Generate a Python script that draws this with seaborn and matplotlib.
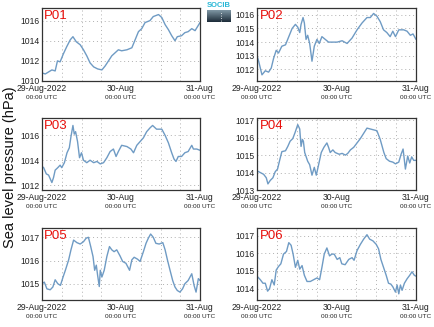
import numpy as np
import pandas as pd
import matplotlib
matplotlib.use("Agg")
import matplotlib.pyplot as plt
import seaborn as sns

# ---- data (hours since 29-Aug-2022 00:00 UTC, sea level pressure hPa) ----
p01_h = [0, 1, 2, 3, 4, 4.7, 5.5, 6.5, 7.5, 8.6, 9.4, 10.4, 11.6, 12.6, 13.6, 14.6, 15.7, 16.9,
         18.2, 19.2, 20.2, 21.2, 22.2, 23.2, 24.2, 25.8, 27.3, 28.3, 29.3, 30.3, 31.3, 32.8, 33.8,
         35.4, 36.4, 37.4, 38.4, 39.4, 40.4, 41.1, 42.4, 43.4, 44.4, 45.5, 46.5, 48]
p01_v = [1010.8, 1010.7, 1010.9, 1011.1, 1011.0, 1012.0, 1011.9, 1012.7, 1013.4, 1014.1, 1014.4,
         1013.9, 1013.6, 1013.1, 1012.5, 1011.8, 1011.4, 1011.2, 1011.1, 1011.5, 1012.0, 1012.5,
         1012.8, 1013.1, 1013.0, 1013.1, 1013.3, 1014.1, 1014.9, 1015.2, 1015.8, 1016.0, 1016.4,
         1016.6, 1016.3, 1015.6, 1015.1, 1014.5, 1014.0, 1014.4, 1014.5, 1014.8, 1014.9, 1015.2,
         1015.0, 1015.8]

p02_h = [0, 0.5, 1.5, 2.5, 3.5, 4.3, 5, 5.8, 6.5, 7.5, 8.6, 9.6, 10.6, 11.6, 12.3, 12.9, 13.3, 13.9,
         14.3, 14.8, 15.3, 15.9, 16.6, 17.3, 18.1, 18.8, 19.6, 20.6, 21.6, 22.6, 24.2, 25.7, 27.2,
         28.7, 30.2, 31.7, 33.2, 34.2, 35.2, 36.2, 37.2, 38.2, 39.2, 40.2, 41.0, 41.8, 42.8, 44.3,
         45.3, 46.3, 47.1, 48]
p02_v = [1013.0, 1012.6, 1011.6, 1011.9, 1011.8, 1012.1, 1012.8, 1013.4, 1013.2, 1013.7, 1013.8,
         1014.4, 1015.0, 1015.3, 1015.1, 1014.7, 1015.3, 1015.8, 1015.4, 1014.2, 1014.5, 1013.9,
         1012.6, 1013.7, 1014.2, 1013.9, 1014.4, 1014.2, 1014.0, 1014.0, 1014.0, 1014.1, 1013.9,
         1014.3, 1014.9, 1015.4, 1015.8, 1015.8, 1016.1, 1015.9, 1015.5, 1014.9, 1014.7, 1014.4,
         1014.8, 1014.4, 1014.9, 1014.9, 1014.8, 1014.5, 1014.6, 1014.2]

p03_h = [0, 0.5, 1.3, 2, 2.5, 3, 3.5, 4, 4.8, 5.5, 6, 6.8, 7.6, 8.3, 8.8, 9.4, 9.8, 10.2, 10.8,
         11.4, 12.0, 12.6, 13.6, 14.6, 15.7, 16.7, 17.7, 18.7, 19.7, 20.7, 21.7, 22.5, 23.2, 24.2,
         25.8, 27, 27.8, 28.8, 29.8, 30.8, 31.8, 32.8, 33.6, 34.8, 36.4, 37.4, 38.4, 39.4, 40.1,
         40.7, 41.4, 42.4, 43.4, 44.4, 45.5, 46.0, 47, 48]
p03_v = [1013.5, 1013.4, 1012.9, 1012.8, 1012.5, 1012.2, 1012.6, 1013.2, 1013.4, 1013.6, 1013.4,
         1013.8, 1014.6, 1015.0, 1015.9, 1016.8, 1016.1, 1016.3, 1015.5, 1014.2, 1014.6, 1014.0,
         1013.8, 1014.0, 1013.8, 1013.9, 1013.7, 1013.8, 1014.2, 1014.7, 1014.9, 1014.3, 1014.7,
         1015.2, 1015.1, 1014.9, 1014.6, 1015.2, 1015.5, 1015.8, 1016.3, 1016.6, 1016.8, 1016.5,
         1016.5, 1016.0, 1015.4, 1014.6, 1014.1, 1013.9, 1014.3, 1014.3, 1014.6, 1014.7, 1015.2,
         1014.9, 1014.9, 1014.8]

p04_h = [0, 1, 2, 2.8, 3.3, 4, 4.8, 5.5, 6.2, 6.9, 7.5, 8.6, 9.3, 10, 10.8, 11.5, 12.3, 12.9,
         13.3, 13.7, 14, 14.4, 15.3, 15.9, 16.6, 17.3, 17.9, 18.6, 19.4, 20.2, 21.1, 21.6, 22.1,
         22.9, 23.6, 24.8, 25.7, 26.7, 27.4, 28.2, 29.2, 30.2, 31.2, 32.2, 33.2, 34.2, 35.2, 36.2,
         37.2, 38.3, 39, 40, 41, 41.8, 42.8, 43.5, 44.1, 44.8, 45.5, 46.1, 46.7, 47.3, 48]
p04_v = [1014.1, 1014.0, 1013.9, 1013.7, 1013.35, 1013.55, 1013.7, 1014.05, 1014.2, 1014.75,
         1015.2, 1015.25, 1015.5, 1015.8, 1015.95, 1016.3, 1016.75, 1016.5, 1015.5, 1015.9, 1015.8,
         1015.15, 1014.65, 1014.45, 1013.85, 1014.3, 1013.85, 1014.45, 1015.15, 1015.45, 1015.7,
         1015.45, 1015.15, 1015.3, 1015.15, 1015.05, 1015.1, 1015.0, 1015.1, 1015.3, 1015.45,
         1015.7, 1015.95, 1016.25, 1016.55, 1016.5, 1016.45, 1016.4, 1015.9, 1015.15, 1014.8,
         1014.65, 1014.6, 1014.5, 1014.6, 1015.05, 1015.35, 1014.2, 1014.95, 1014.55, 1014.9,
         1014.7, 1014.7]

p05_h = [0, 0.7, 1.5, 2.5, 3.3, 4, 4.8, 5.6, 6.4, 7.1, 8.1, 8.8, 9.6, 10.6, 11.6, 12.6, 13.4, 14.1,
         14.8, 15.5, 16, 16.5, 16.9, 17.4, 17.7, 18.2, 18.9, 19.7, 20.5, 21.2, 21.9, 22.7, 23.7,
         24.5, 25.5, 26.6, 27.3, 28, 29, 29.8, 30.8, 31.6, 32.3, 33, 33.8, 34.6, 35.6, 36.7, 37.4,
         38.1, 38.9, 39.7, 40.4, 41.1, 41.9, 42.7, 43.4, 44.4, 45.5, 46.2, 46.8, 47.5, 48]
p05_v = [1015.0, 1015.07, 1014.78, 1014.74, 1014.86, 1015.17, 1015.0, 1014.93, 1015.29, 1015.58,
         1016.03, 1016.46, 1016.88, 1016.77, 1016.71, 1016.81, 1016.96, 1017.0, 1016.6, 1016.17,
         1015.58, 1015.8, 1015.36, 1014.88, 1015.58, 1015.29, 1015.58, 1016.17, 1016.6, 1016.46,
         1016.38, 1016.46, 1016.2, 1015.96, 1015.88, 1015.58, 1016.03, 1016.14, 1016.06, 1015.96,
         1016.38, 1016.74, 1016.96, 1017.14, 1017.0, 1016.74, 1016.71, 1016.77, 1016.46, 1016.03,
         1015.58, 1015.14, 1014.86, 1014.71, 1014.64, 1014.78, 1015.0, 1015.14, 1015.43, 1014.93,
         1014.64, 1015.22, 1015.14]

p06_h = [0, 1, 1.8, 2.5, 3.2, 3.8, 4.5, 5.2, 5.8, 6.5, 7.2, 8, 8.9, 9.6, 10.3, 10.9, 11.6, 12.3,
         12.9, 13.6, 14.3, 15.1, 16.1, 17.1, 18.1, 18.9, 19.6, 20.3, 21.1, 21.9, 22.6, 23.3, 24.2,
         25, 25.6, 26.6, 27.7, 28.7, 29.3, 30.2, 31.2, 32.2, 33.2, 34, 35, 36, 36.7, 37.4, 38.2,
         39, 39.7, 40.4, 41, 41.8, 42.3, 42.8, 43.3, 43.8, 44.5, 45.3, 46.1, 46.8, 47.5, 48]
p06_v = [1014.7, 1014.5, 1014.3, 1014.3, 1013.85, 1014.0, 1014.5, 1014.2, 1015.05, 1015.25,
         1015.4, 1015.95, 1016.1, 1016.6, 1016.45, 1015.95, 1015.2, 1015.6, 1015.1, 1015.3,
         1014.75, 1014.4, 1014.4, 1014.5, 1014.6, 1014.5, 1015.2, 1015.95, 1016.3, 1015.85,
         1015.95, 1015.95, 1015.65, 1015.75, 1015.4, 1015.35, 1015.65, 1015.75, 1015.6, 1016.15,
         1016.5, 1016.8, 1017.05, 1016.8, 1016.7, 1016.5, 1016.25, 1015.65, 1015.2, 1014.75,
         1014.3, 1014.25, 1014.1, 1013.8, 1014.2, 1013.7, 1014.2, 1013.9, 1014.3, 1014.55,
         1014.75, 1014.95, 1014.75, 1014.7]

station_names = ["P01", "P02", "P03", "P04", "P05", "P06"]
series_hours = [p01_h, p02_h, p03_h, p04_h, p05_h, p06_h]
series_vals = [p01_v, p02_v, p03_v, p04_v, p05_v, p06_v]
y_ticks = [[1010, 1012, 1014, 1016], [1012, 1013, 1014, 1015, 1016], [1012, 1014, 1016],
           [1013, 1014, 1015, 1016, 1017], [1015, 1016, 1017], [1014, 1015, 1016, 1017]]
y_limits = [(1010, 1017.25), (1011.15, 1016.5), (1011.6, 1017.4),
            (1013, 1017.13), (1014.3, 1017.4), (1013.35, 1017.43)]
x_tick_hours = [0, 24, 48]
x_tick_dates = ["29-Aug-2022", "30-Aug", "31-Aug"]
x_tick_times = ["00:00 UTC", "00:00 UTC", "00:00 UTC"]
ylabel_text = "Sea level pressure (hPa)"

# ---- style ----
sns.set_style("white")
plt.rcParams["font.family"] = ["Liberation Sans", "DejaVu Sans"]

W, H = 434, 327
fig = plt.figure(figsize=(W / 100, H / 100), dpi=100)

cols = [(42, 158), (257, 159)]
rows = [(8, 81), (118, 190), (228, 300)]
line_color = "#6f9bc4"

for i, (name, hrs, vals) in enumerate(zip(station_names, series_hours, series_vals)):
    r, c = divmod(i, 2)
    x0, w = cols[c]
    top, bot = rows[r]
    ax = fig.add_axes([x0 / W, 1 - bot / H, w / W, (bot - top) / H])
    df = pd.DataFrame({"hour": hrs, "slp": vals})
    sns.lineplot(data=df, x="hour", y="slp", ax=ax, color=line_color, linewidth=1.0)
    ax.set_xlim(0, 48)
    ax.set_ylim(*y_limits[i])
    ax.set_yticks(y_ticks[i])
    ax.set_yticklabels([str(t) for t in y_ticks[i]], fontsize=6.2, color="#222222")
    ax.set_xticks(x_tick_hours)
    ax.set_xticklabels(x_tick_dates, fontsize=6.2, color="#222222")
    ax.set_xticks(np.arange(0, 49, 6), minor=True)
    ax.set_xlabel("")
    ax.set_ylabel("")
    ax.grid(True, which="minor", axis="x", linestyle=(0, (1, 3)), color="#b0b0b0", linewidth=0.7)
    ax.grid(True, which="major", axis="y", linestyle=(0, (1, 3)), color="#b0b0b0", linewidth=0.7)
    ax.tick_params(axis="y", which="major", direction="in", length=2.5, width=0.6,
                   pad=2, color="#333333")
    ax.tick_params(axis="x", which="major", direction="in", length=2.5, width=0.6,
                   pad=2.5, color="#333333")
    ax.tick_params(axis="x", which="minor", direction="in", length=2.5, width=0.6, color="#333333")
    for s in ax.spines.values():
        s.set_color("#333333")
        s.set_linewidth(0.9)
    for xh, tt in zip(x_tick_hours, x_tick_times):
        ax.annotate(tt, xy=(xh, 0), xycoords=("data", "axes fraction"),
                    xytext=(0, -10), textcoords="offset points",
                    ha="center", va="top", fontsize=4.6, color="#222222")
    ax.text(0.015, 0.97, name, transform=ax.transAxes, ha="left", va="top",
            fontsize=9.5, color="#e8100c")

fig.text(10 / W, 1 - 167 / H, ylabel_text, rotation=90, ha="center", va="center",
         fontsize=10.5, color="#111111")

# small logo
lax = fig.add_axes([207 / W, 1 - 22 / H, 23 / W, 12 / H])
grad = np.linspace(0, 1, 20).reshape(-1, 1)
lax.imshow(grad, aspect="auto", cmap=matplotlib.colors.LinearSegmentedColormap.from_list(
    "lg", ["#7d95a3", "#1e2d3a"]), extent=(0, 1, 0, 1), origin="upper")
lax.plot([0.6, 0.6], [0.1, 0.9], color="white", linestyle=(0, (1, 2)), linewidth=0.6)
lax.set_xlim(0, 1)
lax.set_ylim(0, 1)
lax.axis("off")
fig.text(218.5 / W, 1 - 5.5 / H, "SOCIB", ha="center", va="center", fontsize=5.5,
         color="#27b7d6", fontweight="bold")

fig.savefig("out.png", dpi=100)
